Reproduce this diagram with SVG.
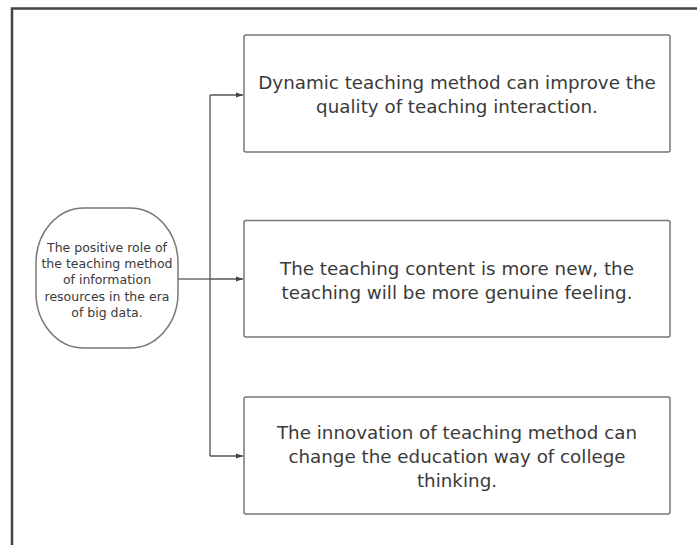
<svg xmlns="http://www.w3.org/2000/svg" width="697" height="545" viewBox="0 0 697 545">
<defs>
<style>
.frame{fill:none;stroke:#444;stroke-width:2.5}
.box{fill:#fff;stroke:#777;stroke-width:1.5}
.conn{fill:none;stroke:#555;stroke-width:1.3}
.t{font-family:"DejaVu Sans","Noto Sans",sans-serif;fill:#3a3a3a;text-anchor:middle}
.big{font-size:18.3px}
.small{font-size:12.5px}
</style>
<marker id="arr" viewBox="0 0 10 10" refX="10" refY="5" markerWidth="8" markerHeight="7" markerUnits="userSpaceOnUse" orient="auto">
<path d="M0,1.5 L10,5 L0,8.5 z" fill="#444"/>
</marker>
</defs>
<rect width="697" height="545" fill="#fff"/>
<path class="frame" d="M12,545 V8.5 H697"/>
<g id="connectors">
<path class="conn" d="M178,279 H210"/>
<path class="conn" d="M210,95 V456"/>
<path class="conn" d="M210,95 H243" marker-end="url(#arr)"/>
<path class="conn" d="M210,279 H243" marker-end="url(#arr)"/>
<path class="conn" d="M210,456 H243" marker-end="url(#arr)"/>
</g>
<g id="root">
<rect class="box" x="36" y="208" width="142" height="140" rx="48" ry="55"/>
<text class="t small" x="107" y="251.5">The positive role of</text>
<text class="t small" x="107" y="267.5">the teaching method</text>
<text class="t small" x="107" y="284">of information</text>
<text class="t small" x="107" y="300.5">resources in the era</text>
<text class="t small" x="107" y="316.5">of big data.</text>
</g>
<g id="box1">
<rect class="box" x="244" y="35" width="426" height="117" rx="2"/>
<text class="t big" x="457" y="88.5">Dynamic teaching method can improve the</text>
<text class="t big" x="457" y="112.5">quality of teaching interaction.</text>
</g>
<g id="box2">
<rect class="box" x="244" y="220.5" width="426" height="116.5" rx="2"/>
<text class="t big" x="457" y="274.5">The teaching content is more new, the</text>
<text class="t big" x="457" y="298.5">teaching will be more genuine feeling.</text>
</g>
<g id="box3">
<rect class="box" x="244" y="397" width="426" height="117" rx="2"/>
<text class="t big" x="457" y="438.5">The innovation of teaching method can</text>
<text class="t big" x="457" y="462.5">change the education way of college</text>
<text class="t big" x="457" y="486.5">thinking.</text>
</g>
</svg>
